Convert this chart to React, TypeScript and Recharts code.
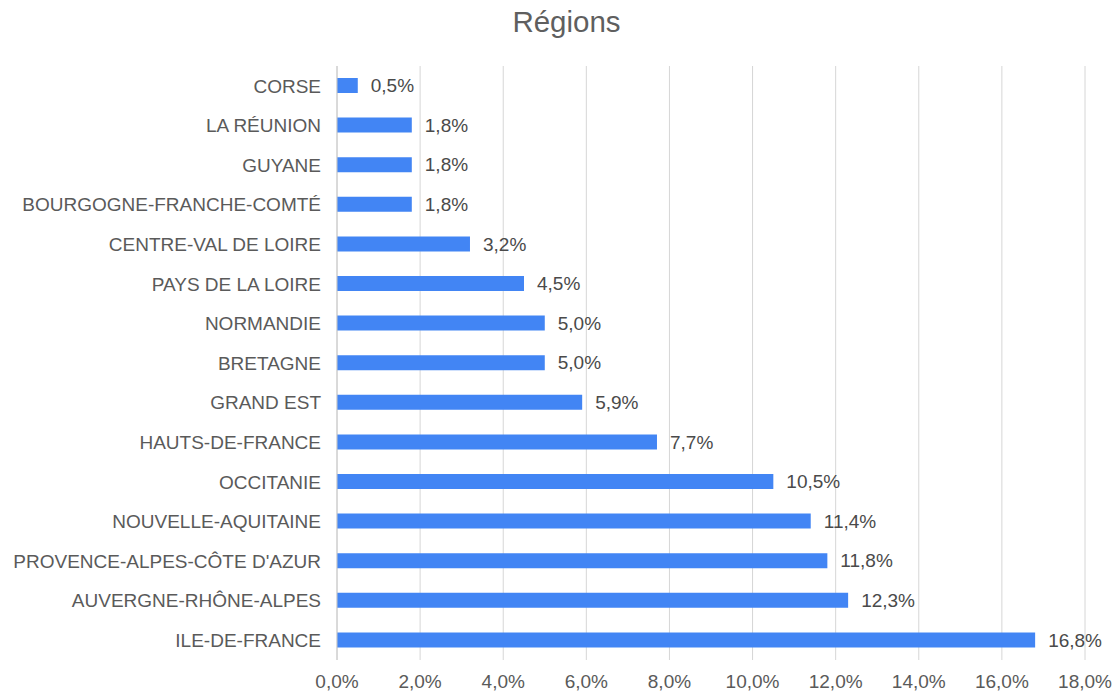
import React from 'react';
import { BarChart, Bar, XAxis, YAxis, CartesianGrid, LabelList } from 'recharts';

// regions, top to bottom as drawn
const regions: string[] = [
  'CORSE',
  'LA RÉUNION',
  'GUYANE',
  'BOURGOGNE-FRANCHE-COMTÉ',
  'CENTRE-VAL DE LOIRE',
  'PAYS DE LA LOIRE',
  'NORMANDIE',
  'BRETAGNE',
  'GRAND EST',
  'HAUTS-DE-FRANCE',
  'OCCITANIE',
  'NOUVELLE-AQUITAINE',
  "PROVENCE-ALPES-CÔTE D'AZUR",
  'AUVERGNE-RHÔNE-ALPES',
  'ILE-DE-FRANCE',
];

const shares: number[] = [0.5, 1.8, 1.8, 1.8, 3.2, 4.5, 5.0, 5.0, 5.9, 7.7, 10.5, 11.4, 11.8, 12.3, 16.8];

const xTicks: number[] = [0, 2, 4, 6, 8, 10, 12, 14, 16, 18];

const data = regions.map((name, i) => ({ name, value: shares[i] }));

const pct = (v: number) => v.toFixed(1).replace('.', ',') + '%';

const FONT = 'Liberation Sans, Arial, sans-serif';

const App: React.FC = () => {
  return (
    <div style={{ position: 'absolute', left: 0, top: 0, width: 1115, height: 692, background: '#fff', fontFamily: FONT }}>
      <div
        style={{
          position: 'absolute',
          left: 0,
          width: 1133,
          top: 5,
          textAlign: 'center',
          fontSize: 29.5,
          color: '#5f5f5f',
        }}
      >
        Régions
      </div>
      <BarChart
        width={1115}
        height={692}
        data={data}
        layout="vertical"
        margin={{ top: 66, right: 30, bottom: 0, left: 0 }}
        barCategoryGap={0}
      >
        <CartesianGrid horizontal={false} stroke="#d6d6d6" />
        <XAxis
          type="number"
          domain={[0, 18]}
          ticks={xTicks}
          tickFormatter={pct}
          axisLine={false}
          tickLine={false}
          tickSize={0}
          tickMargin={15}
          height={32}
          tick={{ fontSize: 19, fill: '#5a5a5a', fontFamily: FONT }}
          interval={0}
        />
        <YAxis
          type="category"
          dataKey="name"
          width={337}
          axisLine={{ stroke: '#c8c8c8' }}
          tickLine={false}
          tickSize={0}
          tickMargin={16}
          tick={{ fontSize: 19, fill: '#5a5a5a', fontFamily: FONT }}
          interval={0}
        />
        <Bar dataKey="value" fill="#4285f4" barSize={15} isAnimationActive={false}>
          <LabelList
            dataKey="value"
            position="right"
            offset={13}
            formatter={(v: any) => pct(Number(v))}
            style={{ fontSize: 19, fill: '#4a4a4a', fontFamily: FONT }}
          />
        </Bar>
      </BarChart>
    </div>
  );
};

export default App;
